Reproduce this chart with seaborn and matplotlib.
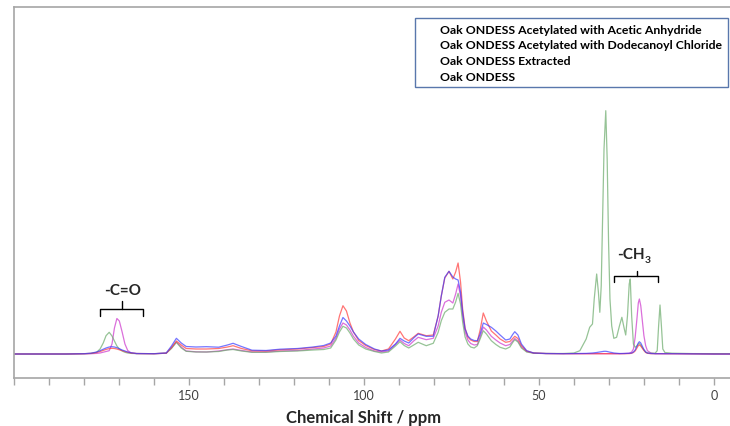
import matplotlib.pyplot as plt
import matplotlib.transforms as mtransforms
from matplotlib.ticker import MultipleLocator
import seaborn as sns

# chemical shift grid (ppm)
ppm = [200, 185, 180, 178, 176.4, 175.4, 174.5, 173.7, 172.8, 172.0,
       171.3, 170.6, 169.9, 169.1, 168.3, 167.5, 166.5, 165, 160, 156.5,
       155, 153.6, 152.2, 150.8, 148, 145, 141.5, 139, 137.4, 135,
       132, 128, 124, 119, 114.5, 111.5, 109.5, 108, 107, 106,
       105, 104, 103, 101.5, 99.5, 97, 95, 93, 91, 89.7,
       88.5, 87.2, 85.8, 84.5, 82.2, 80.2, 78.8, 77.9, 76.9, 75.7,
       74.6, 73.8, 73.1, 72.4, 71.8, 71.1, 70.3, 69.5, 68.5, 67.6,
       66.8, 65.9, 65.0, 63.6, 62.3, 61.1, 59.5, 58.3, 57.5, 56.9,
       56.0, 55.0, 53.5, 51.5, 48, 43, 40, 38.3, 36.5, 35.5,
       34.7, 34.2, 33.5, 33.0, 32.6, 32.2, 31.8, 31.4, 30.9, 30.5,
       30.1, 29.7, 29.2, 28.6, 27.8, 27.0, 26.3, 25.6, 25.2, 24.7,
       24.2, 23.9, 23.5, 23.0, 22.5, 22.0, 21.6, 21.3, 20.9, 20.5,
       20.0, 19.5, 19.0, 18.0, 16.8, 16.2, 15.8, 15.4, 15.0, 14.6,
       14.0, 12, 6, 0, -5]

acetic = [0, 0, 0.2, 0.3, 0.6, 1.0, 1.7, 2.5, 3.3, 10,
          26, 35.5, 33, 22, 10, 3.5, 1, 0.4, 0.3, 0.8,
          6, 12, 7, 3, 2.2, 2, 3, 4.3, 5, 3.5,
          2, 2, 3, 3.5, 5, 6, 8, 16, 25, 31,
          29, 24, 17.7, 11, 6.5, 3, 2, 3, 9.5, 14,
          10.5, 8.3, 13, 16.7, 14.3, 15.7, 28, 41.7, 51.7, 54,
          51, 60, 70, 58, 38, 22, 14, 10.5, 9, 9.5,
          17, 27, 24, 17.7, 14, 11, 8.3, 9.5, 13, 15.5,
          13, 7, 2.5, 0.8, 0.4, 0.3, 0.3, 0.3, 0.3, 0.3,
          0.3, 0.3, 0.3, 0.3, 0.3, 0.3, 0.3, 0.3, 0.3, 0.3,
          0.3, 0.3, 0.3, 0.3, 0.3, 0.3, 0.4, 0.5, 0.6, 0.7,
          0.8, 1.2, 2, 5, 16.7, 35, 51, 55, 48.3, 35,
          18.3, 8.3, 3.3, 1, 0.4, 0.3, 0.3, 0.3, 0.3, 0.3,
          0.3, 0.3, 0.2, 0, 0]

dodecanoyl = [0, 0, 0.3, 0.6, 1.7, 5, 11, 18.3, 21.7, 18,
              13, 8, 5, 3, 1.7, 1, 0.6, 0.4, 0.3, 0.8,
              5.5, 11.7, 6, 2.7, 2, 2, 2.5, 4, 4.5, 3,
              1.7, 1.7, 2.5, 3, 4, 4.5, 6, 14, 22, 27.7,
              26, 21, 15, 9, 5, 2.5, 1, 2, 8, 12.3,
              8.5, 6, 9, 11.7, 8.3, 10.7, 21.7, 33.3, 41.7, 45,
              45, 52, 60.7, 50, 32, 17, 10, 7, 6, 8.3,
              15, 23.3, 20, 13.3, 9.5, 6.7, 5, 7, 11.5, 14.3,
              12, 6, 2, 0.8, 0.5, 0.5, 1, 3.3, 15, 26.7,
              30, 55, 80, 61.7, 41.7, 68, 138, 205, 243.3, 195,
              111.7, 55, 28, 15.7, 16.7, 28, 36.7, 25, 19, 38,
              70, 75, 38, 10, 6.7, 8, 10, 10.5, 9, 6.5,
              4, 2, 1, 0.8, 0.8, 3.3, 28, 49, 28, 5,
              1.5, 0.8, 0.4, 0.3, 0.3]

extracted = [0, 0, 0.3, 0.6, 1.5, 2.5, 3.6, 4.6, 5.4, 5.7,
             5.5, 5, 4.2, 3.3, 2.5, 1.7, 1, 0.5, 0.3, 0.8,
             6.5, 13, 9, 5.5, 5, 5, 5.5, 7, 8.3, 5.5,
             3.2, 3, 4.2, 5, 6.5, 7.5, 10, 22, 38, 48.3,
             43, 31, 22, 13.5, 8.5, 4.5, 3, 5, 15, 22.7,
             16, 13.3, 17, 20.7, 18.3, 19, 38, 58, 76, 82.7,
             75, 82, 91, 72, 45, 26, 17, 14, 12.5, 12.5,
             24, 41, 33, 23, 19, 15, 11.7, 12.5, 15.5, 17.7,
             15.5, 8.5, 3, 1, 0.5, 0.3, 0.3, 0.3, 0.3, 0.3,
             0.3, 0.3, 0.3, 0.3, 0.3, 0.3, 0.3, 0.3, 0.3, 0.3,
             0.3, 0.3, 0.3, 0.3, 0.3, 0.3, 0.3, 0.3, 0.3, 0.3,
             0.4, 0.5, 0.7, 1.5, 3, 6, 8.3, 9, 8, 6,
             3.5, 1.5, 0.7, 0.3, 0.2, 0.2, 0.2, 0.2, 0.2, 0.2,
             0.2, 0.2, 0.2, 0, 0]

ondess = [0, 0, 0.3, 0.8, 2, 3.3, 4.8, 6, 7, 7.3,
          7, 6.3, 5.3, 4, 3, 2, 1.2, 0.5, 0.3, 1,
          8, 15.7, 11, 7.5, 7, 7.3, 6.8, 9, 10.7, 7.5,
          3.8, 3.5, 4.8, 5.5, 7, 8.5, 11, 18, 28, 36.5,
          33, 28, 22, 15, 9.5, 5, 3, 4, 10, 15.7,
          13, 11, 16, 20, 17.7, 17.7, 38, 58, 76.7, 82.7,
          77, 75, 74, 62, 42, 25, 18, 15, 13.5, 13.3,
          20, 31, 29.5, 26.7, 23, 19, 14, 15, 19.5, 22.3,
          19, 10, 3.3, 1, 0.5, 0.3, 0.5, 0.5, 0.6, 0.8,
          1, 1.2, 1.5, 1.8, 2, 2.2, 2.5, 2.7, 2.7, 2.5,
          2.2, 1.8, 1.5, 1, 0.7, 0.5, 0.5, 0.5, 0.5, 0.6,
          0.7, 0.8, 1, 2, 4, 8, 11, 12.3, 11, 8,
          4.5, 2, 1, 0.5, 0.3, 0.3, 0.3, 0.3, 0.3, 0.3,
          0.3, 0.3, 0.2, 0, 0]

labels = ["Oak ONDESS Acetylated with Acetic Anhydride",
          "Oak ONDESS Acetylated with Dodecanoyl Chloride",
          "Oak ONDESS Extracted",
          "Oak ONDESS"]
series = [acetic, dodecanoyl, extracted, ondess]
colors = ["#CC33CC", "#6AAA6A", "#FF3A3A", "#3A3AFF"]

sns.set_theme(style="white")
plt.rcParams['font.family'] = ['Lato', 'DejaVu Sans']

fig = plt.figure(figsize=(7.3, 4.27), dpi=100)
ax = fig.add_axes([14 / 730, 48 / 427, 716 / 730, 371 / 427])

for vals, lab, col in zip(series, labels, colors):
    sns.lineplot(x=ppm, y=vals, color=col, label=lab, lw=0.9, alpha=0.7,
                 estimator=None, ax=ax)

ax.set_xlim(200, -4.6)
ax.set_ylim(-24, 347)
ax.set_yticks([])
ax.set_xticks([150, 100, 50, 0])
ax.xaxis.set_minor_locator(MultipleLocator(10))
ax.tick_params(axis="x", which="both", direction="out", length=5, width=1,
               color="#A6A6A6", bottom=True, labelsize=9, labelcolor="#404040", pad=3)
for side in ["top", "left", "bottom"]:
    ax.spines[side].set_color("#A6A6A6")
    ax.spines[side].set_linewidth(1.2)
ax.spines["right"].set_visible(False)
ax.set_xlabel("")
ax.set_ylabel("")

fig.text(364 / 730, 1 - 418 / 427, "Chemical Shift / ppm", ha="center", va="center",
         fontsize=12, fontweight="bold")

leg = ax.legend(loc="upper left", bbox_to_anchor=(415 / 730, 1 - 19 / 427),
                bbox_transform=fig.transFigure, frameon=True, fancybox=False,
                edgecolor="#2F5597", fontsize=8.85, labelspacing=0.38,
                handlelength=1.2, handletextpad=0.4, borderpad=0.45,
                borderaxespad=0)
leg.get_frame().set_linewidth(1.0)
for h in leg.legend_handles:
    h.set_visible(False)
for t in leg.get_texts():
    t.set_fontweight("bold")
    t.set_color("black")


def brace(x0, x1, xm, y, drop, rise):
    ax.plot([x0, x0, x1, x1], [y - drop, y, y, y - drop], color="black", lw=1)
    ax.plot([xm, xm], [y, y + rise], color="black", lw=1)


brace(175.4, 163.1, 169.2, 45, 7, 8)
ax.text(168.9, 64, "-C=O", ha="center", va="center", fontsize=11, fontweight="bold")

brace(28.6, 16.0, 22.0, 78, 6, 5)
ax.text(19.7, 100, "-CH", ha="right", va="center", fontsize=11, fontweight="bold")
sub = mtransforms.offset_copy(ax.transData, fig=fig, x=0, y=-4, units="points")
ax.text(19.7, 100, "3", ha="left", va="center", fontsize=7.5, fontweight="bold",
        transform=sub)

fig.savefig("out.png", dpi=100)
